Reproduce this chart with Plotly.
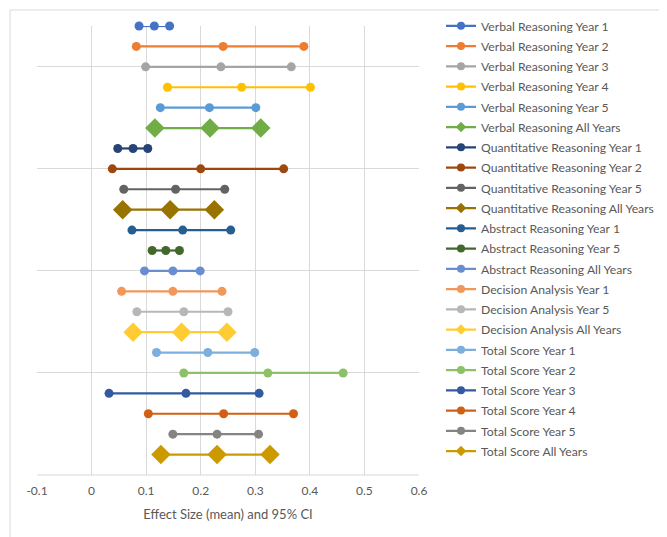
import plotly.graph_objects as go

series_names = [
    "Verbal Reasoning Year 1", "Verbal Reasoning Year 2", "Verbal Reasoning Year 3",
    "Verbal Reasoning Year 4", "Verbal Reasoning Year 5", "Verbal Reasoning All Years",
    "Quantitative Reasoning Year 1", "Quantitative Reasoning Year 2",
    "Quantitative Reasoning Year 5", "Quantitative Reasoning All Years",
    "Abstract Reasoning Year 1", "Abstract Reasoning Year 5", "Abstract Reasoning All Years",
    "Decision Analysis Year 1", "Decision Analysis Year 5", "Decision Analysis All Years",
    "Total Score Year 1", "Total Score Year 2", "Total Score Year 3",
    "Total Score Year 4", "Total Score Year 5", "Total Score All Years",
]
lower = [0.087, 0.082, 0.099, 0.139, 0.126, 0.116, 0.048, 0.038, 0.059, 0.057, 0.074,
         0.111, 0.097, 0.055, 0.083, 0.076, 0.119, 0.169, 0.032, 0.104, 0.149, 0.127]
mean = [0.115, 0.241, 0.237, 0.275, 0.216, 0.217, 0.076, 0.200, 0.154, 0.144, 0.167,
        0.136, 0.149, 0.149, 0.169, 0.165, 0.213, 0.323, 0.173, 0.242, 0.230, 0.230]
upper = [0.143, 0.389, 0.366, 0.401, 0.301, 0.310, 0.103, 0.352, 0.244, 0.225, 0.255,
         0.161, 0.199, 0.239, 0.250, 0.248, 0.299, 0.461, 0.307, 0.370, 0.306, 0.327]
row_pos = [22 - i for i in range(22)]
colors = ["#4472C4", "#ED7D31", "#A5A5A5", "#FFC000", "#5B9BD5", "#70AD47",
          "#264478", "#9E480E", "#636363", "#997300", "#255E91", "#43682B",
          "#698ED0", "#F1975A", "#B7B7B7", "#FFCD33", "#7CAFDD", "#8CC168",
          "#335AA1", "#D26012", "#848484", "#CC9A00"]
diamond_series = ["Verbal Reasoning All Years", "Quantitative Reasoning All Years",
                  "Decision Analysis All Years", "Total Score All Years"]
x_ticks = [-0.1, 0, 0.1, 0.2, 0.3, 0.4, 0.5, 0.6]
x_tick_text = ["-0.1", "0", "0.1", "0.2", "0.3", "0.4", "0.5", "0.6"]

fig = go.Figure()
for i, name in enumerate(series_names):
    is_d = name in diamond_series
    sym = "diamond" if is_d else "circle"
    fig.add_trace(go.Scatter(
        x=[lower[i], mean[i], upper[i]],
        y=[row_pos[i]] * 3,
        mode="lines+markers",
        name=name,
        legendgroup=name,
        showlegend=False,
        line=dict(color=colors[i], width=2.2),
        marker=dict(color=colors[i], symbol=sym, size=15 if is_d else 9),
        cliponaxis=False,
    ))
    # legend entry (Excel draws smaller markers in the legend)
    fig.add_trace(go.Scatter(
        x=[None], y=[None],
        mode="lines+markers",
        name=name,
        legendgroup=name,
        showlegend=True,
        line=dict(color=colors[i], width=2.2),
        marker=dict(color=colors[i], symbol=sym, size=8),
    ))

# page body has an 8px offset; layout is computed in screen pixels and shifted
OFF = 8
W, H = 667, 537
px_left, px_right, px_top, px_bottom = 37, 419, 26, 475
L = px_left - OFF
T = px_top - OFF
R = W - (px_right - OFF)
B = H - (px_bottom - OFF)
pw, ph = px_right - px_left, px_bottom - px_top


def pxx(sx):
    return (sx - px_left) / pw


def pxy(sy):
    return (px_bottom - sy) / ph


fig.update_layout(
    width=W, height=H,
    margin=dict(l=L, r=R, t=T, b=B, autoexpand=False),
    plot_bgcolor="white", paper_bgcolor="white",
    font=dict(family="Lato, Open Sans, sans-serif", color="#595959", size=12),
    showlegend=True,
    legend=dict(
        x=pxx(441), xanchor="left",
        y=pxy(11.3), yanchor="top",
        traceorder="grouped", tracegroupgap=1.25,
        font=dict(size=12.2, color="#595959"),
        bgcolor="rgba(0,0,0,0)",
        itemwidth=30,
        maxheight=530,
    ),
    xaxis=dict(
        range=[-0.1, 0.6], tickvals=x_ticks, ticktext=x_tick_text,
        showgrid=True, gridcolor="#D9D9D9", gridwidth=1,
        zeroline=False, showline=False, ticks="", automargin=False,
        ticklabelstandoff=7,
        tickfont=dict(size=12, color="#595959"),
        title=dict(text="Effect Size (mean) and 95% CI", font=dict(size=13, color="#595959"), standoff=12),
    ),
    yaxis=dict(
        range=[0, 22], tickvals=[0, 5, 10, 15, 20], showticklabels=False,
        showgrid=True, gridcolor="#D9D9D9", gridwidth=1,
        zeroline=False, showline=False, ticks="", automargin=False,
    ),
    shapes=[
        dict(type="line", xref="paper", yref="paper",
             x0=pxx(10), x1=pxx(W + 20), y0=pxy(10), y1=pxy(10),
             line=dict(color="#D9D9D9", width=1)),
        dict(type="line", xref="paper", yref="paper",
             x0=pxx(10), x1=pxx(10), y0=pxy(10), y1=pxy(H + 20),
             line=dict(color="#D9D9D9", width=1)),
        dict(type="line", xref="paper", yref="paper",
             x0=0, x1=1, y0=0, y1=0,
             line=dict(color="#D9D9D9", width=1)),
    ],
)

fig.write_html("out.html")
